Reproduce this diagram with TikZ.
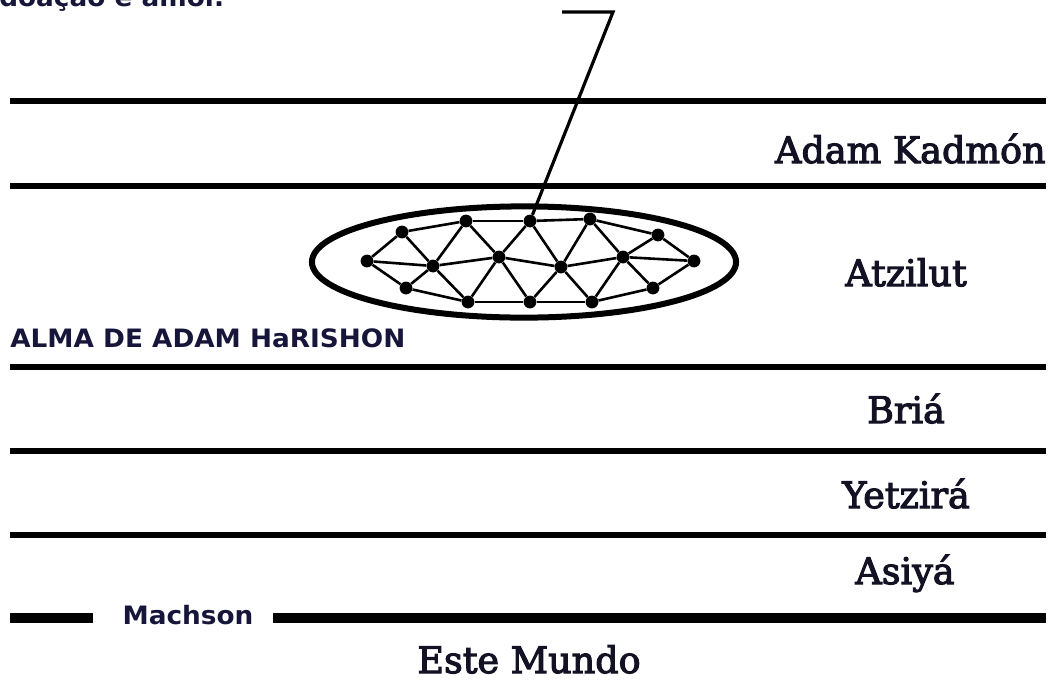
\documentclass[tikz,border=0pt]{standalone}
\usepackage{fontspec}
\setsansfont{DejaVu Sans}[FakeStretch=1.04]
\newfontfamily\worldfont{DejaVu Serif}[FakeBold=3]
\usetikzlibrary{shapes.geometric}
\definecolor{inkblue}{HTML}{16163A}
\definecolor{inkdark}{HTML}{121224}

\begin{document}
\begin{tikzpicture}[x=0.025cm, y=-0.025cm,
        world/.style={line width=0.16cm, black},
        worldlab/.style={font=\worldfont\fontsize{26}{30}\selectfont, text=inkdark, inner sep=0pt},
        note/.style={font=\sffamily\bfseries\fontsize{18}{21}\selectfont, text=inkblue, inner sep=0pt},
        dot/.style={circle, fill=black, inner sep=0pt, minimum size=0.32cm},
        net/.style={line width=0.065cm, black},
    ]
        \useasboundingbox (0,0) rectangle (1048,680);

        % cut-off caption at the top
        \node[note, anchor=base west] (caption) at (-1,6) {doação e amor.};

        % the worlds
        \draw[world] (10,101) -- (1046,101);
        \draw[world] (10,186) -- (1046,186);
        \draw[world] (10,367) -- (1046,367);
        \draw[world] (10,451) -- (1046,451);
        \draw[world] (10,535) -- (1046,535);
        \node[worldlab, anchor=base east] (kadmon) at (1046,163) {Adam Kadmón};
        \node[worldlab, anchor=base] (atzilut) at (906,286) {Atzilut};
        \node[worldlab, anchor=base] (bria) at (906,423) {Briá};
        \node[worldlab, anchor=base] (yetzira) at (906,508) {Yetzirá};
        \node[worldlab, anchor=base] (asiya) at (905,584) {Asiyá};

        % Machson
        \node[note, anchor=base] (machson) at (188,624) {Machson};
        \draw[line width=0.24cm] (10,618) -- (93,618);
        \draw[line width=0.24cm] (273,618) -- (1046,618);
        \node[worldlab, anchor=base] (mundo) at (529,673) {Este Mundo};

        % soul of Adam HaRishon
        \node[note, anchor=base west] (alma) at (10,347) {ALMA DE ADAM HaRISHON};
        \node[draw, ellipse, line width=0.15cm, minimum width=10.6cm,
              minimum height=2.78cm] (soul) at (524,262) {};

        \node[dot] (l) at (367,261) {};
        \node[dot] (t1) at (402,232) {};
        \node[dot] (t2) at (466,221) {};
        \node[dot] (t3) at (530,221) {};
        \node[dot] (t4) at (590,219) {};
        \node[dot] (t5) at (658,235) {};
        \node[dot] (m1) at (433,266) {};
        \node[dot] (m2) at (499,257) {};
        \node[dot] (m3) at (561,267) {};
        \node[dot] (m4) at (623,257) {};
        \node[dot] (r) at (694,261) {};
        \node[dot] (b1) at (406,288) {};
        \node[dot] (b2) at (468,302) {};
        \node[dot] (b3) at (530,302) {};
        \node[dot] (b4) at (592,302) {};
        \node[dot] (b5) at (653,288) {};

        \foreach \a/\b in {l/t1, l/m1, l/b1, t1/m1, b1/m1, t1/t2, b1/b2,
                m1/t2, m1/b2, m1/m2, t2/t3, t2/m2, m2/t3, m2/b2, m2/b3, m2/m3,
                b2/b3, t3/t4, t3/m3, b3/m3, b3/b4, m3/t4, m3/b4, m3/m4,
                t4/t5, t4/m4, m4/t5, m4/b4, m4/b5, m4/r, b4/b5, t5/r, b5/r}
            \draw[net] (\a) -- (\b);

        % pointer to the caption
        \coordinate (hook) at (562,12);
        \coordinate (bend) at (613,12);
        \draw[line width=0.08cm] (hook) -- (bend) -- (t3);
    \end{tikzpicture}
\end{document}
